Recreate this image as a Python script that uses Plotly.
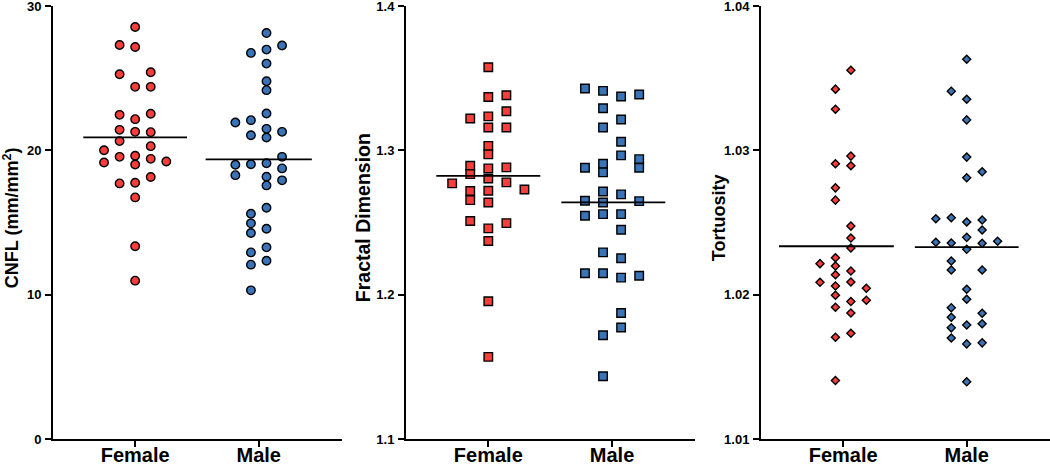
import plotly.graph_objects as go

# ---------------- data ----------------
categories = ["Female", "Male"]

cnfl_female = [28.55, 27.30, 27.16, 25.27, 25.41, 24.40, 24.40, 22.46, 22.53, 22.16, 21.42, 21.28, 21.26, 20.64,
               20.29, 20.01, 19.55, 19.62, 19.41, 19.16, 19.02, 19.23, 18.15, 17.71, 17.75, 16.74, 13.35, 10.97]
cnfl_female_col = [0, -1, 0, -1, 1, 0, 1, -1, 1, 0, -1, 0, 1, -1, 1, -2, -1, 0, 1, -2, 0, 2, 1, -1, 0, 0, 0, 0]
cnfl_male = [28.13, 26.75, 26.98, 27.26, 26.01, 24.79, 24.17, 22.55, 21.93, 22.09, 21.49, 21.28, 21.05, 20.89,
             19.55, 19.00, 19.04, 19.11, 18.28, 18.75, 18.17, 17.92, 17.57, 16.02, 15.61, 14.94, 14.27, 14.57,
             12.93, 13.28, 12.08, 12.35, 10.30]
cnfl_male_col = [0.5, -0.5, 0.5, 1.5, 0.5, 0.5, 0.5, 0.5, -1.5, -0.5, 0.5, 1.5, -0.5, 0.5, 1.5, -1.5, -0.5, 0.5,
                 -1.5, 1.5, 0.5, 1.5, 0.5, 0.5, -0.5, -0.5, -0.5, 0.5, -0.5, 0.5, -0.5, 0.5, -0.5]

fd_female = [1.3576, 1.3370, 1.3382, 1.3221, 1.3235, 1.3271, 1.3158, 1.3158, 1.3031, 1.2972, 1.2893, 1.2875,
             1.2882, 1.2835, 1.2805, 1.2771, 1.2778, 1.2729, 1.2718, 1.2720, 1.2655, 1.2639, 1.2510, 1.2496,
             1.2459, 1.2372, 1.1954, 1.1569]
fd_female_col = [0, 0, 1, -1, 0, 1, 0, 1, 0, 0, -1, 0, 1, -1, 0, -2, 1, 2, -1, 0, -1, 0, -1, 1, 0, 0, 0, 0]
fd_male = [1.3428, 1.3412, 1.3373, 1.3387, 1.3292, 1.3214, 1.3158, 1.3059, 1.2965, 1.2939, 1.2879, 1.2879,
           1.2907, 1.2847, 1.2715, 1.2695, 1.2651, 1.2639, 1.2648, 1.2547, 1.2558, 1.2558, 1.2450, 1.2293,
           1.2252, 1.2148, 1.2148, 1.2118, 1.2131, 1.1873, 1.1772, 1.1719, 1.1435]
fd_male_col = [-1.5, -0.5, 0.5, 1.5, -0.5, 0.5, -0.5, 0.5, 0.5, 1.5, 1.5, -1.5, -0.5, -0.5, -0.5, 0.5, -1.5,
               -0.5, 1.5, -1.5, -0.5, 0.5, 0.5, -0.5, 0.5, -1.5, -0.5, 0.5, 1.5, 0.5, 0.5, -0.5, -0.5]

tort_female = [1.03555, 1.03424, 1.03285, 1.02960, 1.02907, 1.02893, 1.02740, 1.02655, 1.02475, 1.02392,
               1.02323, 1.02256, 1.02215, 1.02199, 1.02138, 1.02164, 1.02086, 1.02088, 1.02060, 1.02044,
               1.01996, 1.01952, 1.01961, 1.01913, 1.01873, 1.01705, 1.01733, 1.01405]
tort_female_col = [0.5, -0.5, -0.5, 0.5, -0.5, 0.5, -0.5, -0.5, 0.5, 0.5, 0.5, -0.5, -1.5, -0.5, -0.5, 0.5,
                   -1.5, 0.5, -0.5, 1.5, -0.5, 0.5, 1.5, -0.5, 0.5, -0.5, 0.5, -0.5]
tort_male = [1.03631, 1.03410, 1.03354, 1.03211, 1.02953, 1.02851, 1.02810, 1.02526, 1.02533, 1.02503,
             1.02517, 1.02448, 1.02397, 1.02363, 1.02358, 1.02356, 1.02370, 1.02314, 1.02233, 1.02171,
             1.02171, 1.02037, 1.01968, 1.01910, 1.01871, 1.01844, 1.01790, 1.01799, 1.01770, 1.01700,
             1.01659, 1.01666, 1.01396]
tort_male_col = [0, -1, 0, 0, 0, 1, 0, -2, -1, 0, 1, 1, 0, -2, -1, 1, 2, 0, -1, -1, 1, 0, 0, -1, 1, -1, 0, 1,
                 -1, -1, 0, 1, 0]

y_titles = ["CNFL (mm/mm<sup>2</sup>)", "Fractal Dimension", "Tortuosity"]
y_ranges = [[0, 30], [1.1, 1.4], [1.01, 1.04]]
y_ticks = [[0, 10, 20, 30], [1.1, 1.2, 1.3, 1.4], [1.01, 1.02, 1.03, 1.04]]
y_ticktext = [["0", "10", "20", "30"], ["1.1", "1.2", "1.3", "1.4"], ["1.01", "1.02", "1.03", "1.04"]]

# ---------------- style ----------------
RED = "#F93C3C"
BLUE = "#3A74B8"
FONT = "Liberation Sans, Arial, Helvetica, sans-serif"
W, H = 1050, 465

panels = [
    dict(series=[(cnfl_female, cnfl_female_col, RED), (cnfl_male, cnfl_male_col, BLUE)],
         symbol="circle", size=8.5, spacing=0.126, dom=(53, 341.5), title_x=11, title_size=18,
         mean_ext=[(-0.42, 0.42), (-0.43, 0.43)]),
    dict(series=[(fd_female, fd_female_col, RED), (fd_male, fd_male_col, BLUE)],
         symbol="square", size=8.5, spacing=0.146, dom=(406, 695), title_x=363, title_size=19.5,
         mean_ext=[(-0.42, 0.42), (-0.41, 0.43)]),
    dict(series=[(tort_female, tort_female_col, RED), (tort_male, tort_male_col, BLUE)],
         symbol="diamond", size=6.2, spacing=0.125, dom=(761, 1049.5), title_x=719, title_size=18,
         mean_ext=[(-0.52, 0.41), (-0.42, 0.42)]),
]

fig = go.Figure()
layout = dict(
    width=W, height=H,
    margin=dict(l=0, r=0, t=6, b=26, autoexpand=False),
    paper_bgcolor="white", plot_bgcolor="white",
    showlegend=False,
    font=dict(family=FONT, color="black"),
)

annotations = []
for i, p in enumerate(panels):
    xa = "x" if i == 0 else f"x{i+1}"
    ya = "y" if i == 0 else f"y{i+1}"
    for ci, (vals, cols, color) in enumerate(p["series"]):
        xs = [ci + c * p["spacing"] for c in cols]
        fig.add_trace(go.Scatter(
            x=xs, y=vals, mode="markers", xaxis=xa, yaxis=ya,
            marker=dict(symbol=p["symbol"], size=p["size"], color=color,
                        line=dict(color="black", width=1.4)),
            hoverinfo="y",
        ))
        m = sum(vals) / len(vals)
        lo, hi = p["mean_ext"][ci]
        fig.add_trace(go.Scatter(
            x=[ci + lo, ci + hi], y=[m, m], mode="lines", xaxis=xa, yaxis=ya,
            line=dict(color="black", width=1.8), hoverinfo="skip",
        ))
    d0, d1 = p["dom"]
    xkey = "xaxis" if i == 0 else f"xaxis{i+1}"
    ykey = "yaxis" if i == 0 else f"yaxis{i+1}"
    layout[xkey] = dict(
        domain=[d0 / W, d1 / W], anchor=ya, range=[-0.665, 1.67],
        tickvals=[0, 1], ticktext=categories,
        tickfont=dict(size=20, family=FONT, weight="bold", color="black"),
        showline=True, linecolor="black", linewidth=2,
        ticks="outside", ticklen=6, tickwidth=2, tickcolor="black",
        showgrid=False, zeroline=False, fixedrange=True,
        automargin=False, ticklabeloverflow="allow", ticklabelstandoff=-9,
    )
    layout[ykey] = dict(
        domain=[0, 1], anchor=xa, range=y_ranges[i],
        tickvals=y_ticks[i], ticktext=y_ticktext[i],
        tickfont=dict(size=13, family=FONT, weight="bold", color="black"),
        showline=True, linecolor="black", linewidth=2,
        ticks="outside", ticklen=6, tickwidth=2, tickcolor="black",
        showgrid=False, zeroline=False, fixedrange=True, ticklabelstandoff=1,
        automargin=False, ticklabeloverflow="allow",
    )
    annotations.append(dict(
        text=f"<b>{y_titles[i]}</b>", textangle=-90,
        x=p["title_x"] / W, xref="paper", y=0.51, yref="paper",
        xanchor="center", yanchor="middle", showarrow=False,
        font=dict(size=p["title_size"], family=FONT, color="black"),
    ))

layout["annotations"] = annotations
fig.update_layout(**layout)
fig.write_html(
    "out.html",
    config={"displayModeBar": False, "staticPlot": True},
    post_script="document.body.style.margin='0';document.body.style.overflow='hidden';",
)
